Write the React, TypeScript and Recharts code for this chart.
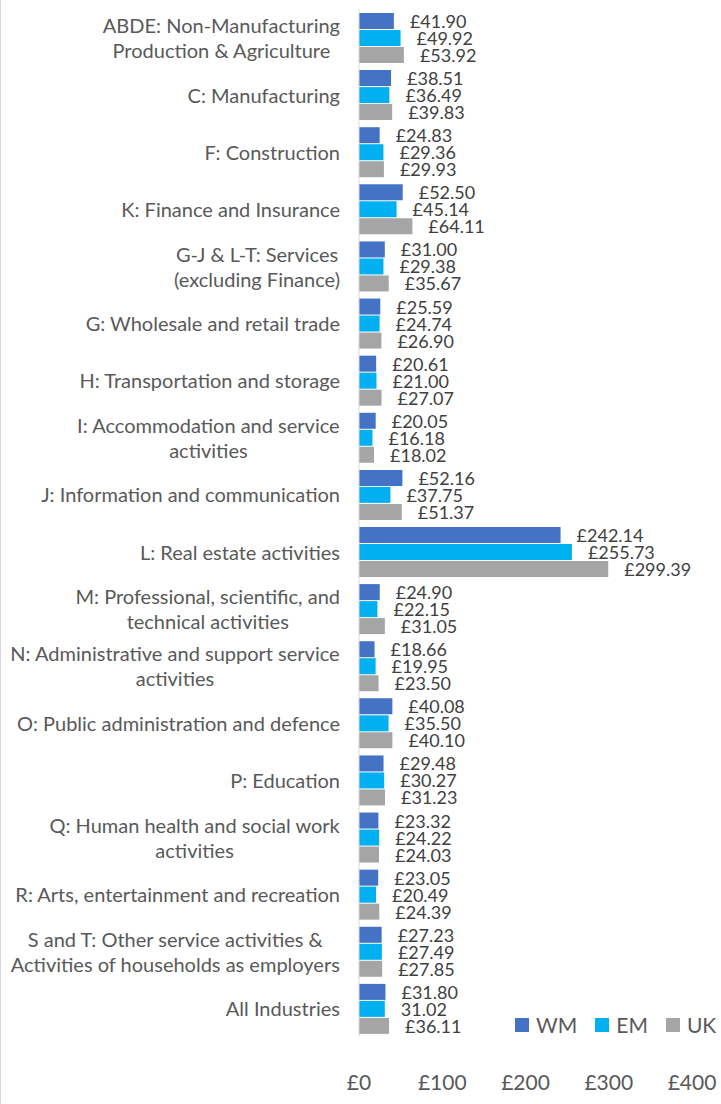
import React from 'react';
import { BarChart, Bar, XAxis, YAxis, Legend, LabelList } from 'recharts';

const categories = [
  'ABDE: Non-Manufacturing\nProduction & Agriculture',
  'C: Manufacturing',
  'F: Construction',
  'K: Finance and Insurance',
  'G-J & L-T: Services\n(excluding Finance)',
  'G: Wholesale and retail trade',
  'H: Transportation and storage',
  'I: Accommodation and service\nactivities',
  'J: Information and communication',
  'L: Real estate activities',
  'M: Professional, scientific, and\ntechnical activities',
  'N: Administrative and support service\nactivities',
  'O: Public administration and defence',
  'P: Education',
  'Q: Human health and social work\nactivities',
  'R: Arts, entertainment and recreation',
  'S and T: Other service activities &\nActivities of households as employers',
  'All Industries',
];

const wm = [41.9, 38.51, 24.83, 52.5, 31.0, 25.59, 20.61, 20.05, 52.16, 242.14, 24.9, 18.66, 40.08, 29.48, 23.32, 23.05, 27.23, 31.8];
const em = [49.92, 36.49, 29.36, 45.14, 29.38, 24.74, 21.0, 16.18, 37.75, 255.73, 22.15, 19.95, 35.5, 30.27, 24.22, 20.49, 27.49, 31.02];
const uk = [53.92, 39.83, 29.93, 64.11, 35.67, 26.9, 27.07, 18.02, 51.37, 299.39, 31.05, 23.5, 40.1, 31.23, 24.03, 24.39, 27.85, 36.11];

// the source leaves the £ off this one label
const emNoPound = ['All Industries'];

const xTicks = [0, 100, 200, 300, 400];

const series = [
  { key: 'WM', color: '#4472C4' },
  { key: 'EM', color: '#00B0F0' },
  { key: 'UK', color: '#A5A5A5' },
];

const data = categories.map((name, i) => ({ name, WM: wm[i], EM: em[i], UK: uk[i] }));

const FONT = 'Lato, "Open Sans", sans-serif';
const CAT_SIZE = 20;

let ctx: CanvasRenderingContext2D | null = null;
function textWidth(s: string) {
  if (!ctx) ctx = document.createElement('canvas').getContext('2d');
  if (!ctx) return s.length * CAT_SIZE * 0.5;
  ctx.font = `${CAT_SIZE}px Lato`;
  return ctx.measureText(s).width;
}

function CategoryTick(props: any) {
  const { y, payload } = props;
  const lines = String(payload.value).split('\n');
  const right = 339;
  const lineH = 25;
  const w = Math.max(...lines.map(textWidth));
  const single = lines.length === 1;
  const y0 = y - ((lines.length - 1) * lineH) / 2;
  return (
    <g>
      {lines.map((ln, i) => (
        <text
          key={i}
          x={single ? right : right - w / 2}
          y={y0 + i * lineH}
          textAnchor={single ? 'end' : 'middle'}
          dominantBaseline="central"
          fill="#595959"
          fontSize={CAT_SIZE}
          fontFamily={FONT}
        >
          {ln}
        </text>
      ))}
    </g>
  );
}

function valueLabel(seriesKey: string) {
  return (props: any) => {
    const { x, y, width, height, value, index } = props;
    const noPound = seriesKey === 'EM' && emNoPound.includes(categories[index]);
    const txt = (noPound ? '' : '£') + Number(value).toFixed(2);
    return (
      <text
        x={x + width + 16}
        y={y + height / 2}
        dominantBaseline="central"
        fill="#404040"
        fontSize={18}
        fontFamily={FONT}
      >
        {txt}
      </text>
    );
  };
}

function LegendBox() {
  return (
    <div style={{ display: 'flex', alignItems: 'center', fontFamily: FONT, fontSize: 21, color: '#595959' }}>
      {series.map((s) => (
        <div key={s.key} style={{ display: 'flex', alignItems: 'center', marginRight: 18 }}>
          <span style={{ width: 14, height: 14, background: s.color, display: 'inline-block', marginRight: 7 }} />
          <span>{s.key}</span>
        </div>
      ))}
    </div>
  );
}

export default function App() {
  return (
    <div
      style={{
        position: 'absolute',
        left: 0,
        top: 0,
        width: 721,
        height: 1104,
        background: '#fff',
        borderLeft: '1px solid #D9D9D9',
        boxSizing: 'border-box',
      }}
    >
      <BarChart
        layout="vertical"
        width={720}
        height={1104}
        data={data}
        margin={{ top: 9, right: 29, bottom: 0, left: 0 }}
        barSize={16}
        barGap={1}
      >
        <XAxis
          type="number"
          domain={[0, 400]}
          ticks={xTicks}
          axisLine={false}
          tickLine={false}
          height={42}
          tickMargin={32}
          tickFormatter={(v: number) => `£${v}`}
          tick={{ fill: '#595959', fontSize: 21, fontFamily: FONT }}
          interval={0}
        />
        <YAxis
          type="category"
          dataKey="name"
          width={358}
          axisLine={{ stroke: '#D9D9D9' }}
          tickLine={false}
          tick={<CategoryTick />}
          interval={0}
        />
        <Legend
          content={<LegendBox />}
          wrapperStyle={{ position: 'absolute', left: 514, top: 1012, width: 'auto' }}
        />
        {series.map((s) => (
          <Bar key={s.key} dataKey={s.key} fill={s.color} isAnimationActive={false}>
            <LabelList dataKey={s.key} content={valueLabel(s.key)} />
          </Bar>
        ))}
      </BarChart>
    </div>
  );
}
